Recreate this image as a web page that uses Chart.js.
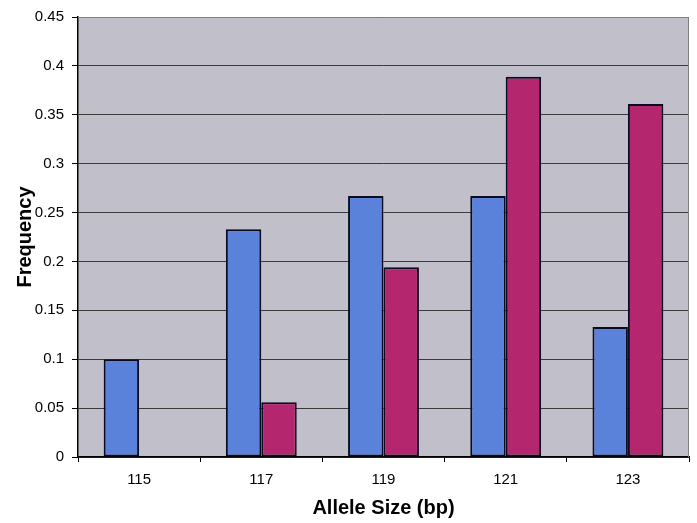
<!DOCTYPE html>
<html>
<head>
<meta charset="utf-8">
<script src="https://cdn.jsdelivr.net/npm/chart.js@4/dist/chart.umd.min.js"></script>
<style>
  html, body { margin: 0; padding: 0; background: #fff; }
</style>
</head>
<body>
<canvas id="allele_chart" width="697" height="523"></canvas>
<script>
// allele frequency chart

let allele_labels = ['115', '117', '119', '121', '123'];

let blue_freq = [0.1, 0.233, 0.267, 0.267, 0.133];
let red_freq = [0, 0.056, 0.194, 0.389, 0.361];

let y_ticks = [0, 0.05, 0.1, 0.15, 0.2, 0.25, 0.3, 0.35, 0.4, 0.45];

// grey plot background plus thin frame on top / right
const plotBack = {
    id: 'plotBack',
    beforeDraw(chart) {
        const a = chart.chartArea;
        const ctx = chart.ctx;
        ctx.save();
        ctx.fillStyle = '#c1bfc9';
        ctx.fillRect(a.left, a.top, a.right - a.left, a.bottom - a.top);
        ctx.restore();
    },
    afterDatasetsDraw(chart) {
        const a = chart.chartArea;
        const ctx = chart.ctx;
        ctx.save();
        ctx.strokeStyle = '#808080';
        ctx.lineWidth = 1;
        ctx.beginPath();
        ctx.moveTo(a.left, a.top + 0.5);
        ctx.lineTo(a.right - 0.5, a.top + 0.5);
        ctx.lineTo(a.right - 0.5, a.bottom);
        ctx.stroke();
        ctx.restore();
    }
};

const tickFont = { family: 'Liberation Sans, Arial, sans-serif', size: 15 };
const titleFont = { family: 'Liberation Sans, Arial, sans-serif', size: 20, weight: 'bold' };

const allele_data = {
    labels: allele_labels,
    datasets: [{
        data: blue_freq,
        backgroundColor: 'rgb(90, 130, 218)',
        borderColor: '#0a0a20',
        borderWidth: 2,
        borderSkipped: false,
        categoryPercentage: 0.58,
        barPercentage: 1.0
    }, {
        data: red_freq,
        backgroundColor: 'rgb(180, 38, 110)',
        borderColor: '#0a0a20',
        borderWidth: 2,
        borderSkipped: false,
        categoryPercentage: 0.58,
        barPercentage: 1.0
    }]
};

const allele_config = {
    type: 'bar',
    data: allele_data,
    plugins: [plotBack],
    options: {
        responsive: false,
        animation: false,
        layout: { padding: { top: 17, right: 8, left: 0, bottom: 0 } },
        plugins: {
            legend: { display: false },
            tooltip: { enabled: false }
        },
        scales: {
            x: {
                grid: {
                    display: true,
                    offset: true,
                    drawOnChartArea: false,
                    drawTicks: true,
                    tickLength: 5,
                    color: '#000'
                },
                border: { color: '#000', width: 1.5 },
                ticks: { font: tickFont, color: '#000', padding: 9 },
                title: {
                    display: true,
                    text: 'Allele Size (bp)',
                    font: titleFont,
                    color: '#000',
                    padding: { top: 0, bottom: 3 }
                },
                afterFit(scale) { scale.height = 66; }
            },
            y: {
                min: 0,
                max: 0.45,
                afterBuildTicks(scale) {
                    scale.ticks = y_ticks.map(v => ({ value: v }));
                },
                grid: {
                    color: '#3a3a3a',
                    lineWidth: 1,
                    tickLength: 6,
                    tickColor: '#000'
                },
                border: { color: '#000', width: 1.5 },
                ticks: {
                    font: tickFont,
                    color: '#000',
                    padding: 8,
                    callback: v => String(v)
                },
                title: {
                    display: true,
                    text: 'Frequency',
                    font: titleFont,
                    color: '#000',
                    padding: { top: 13, bottom: 0 }
                },
                afterFit(scale) { scale.width = 78; }
            }
        }
    }
};

const allele_chart = new Chart(
    document.getElementById('allele_chart'),
    allele_config
);
</script>
</body>
</html>
